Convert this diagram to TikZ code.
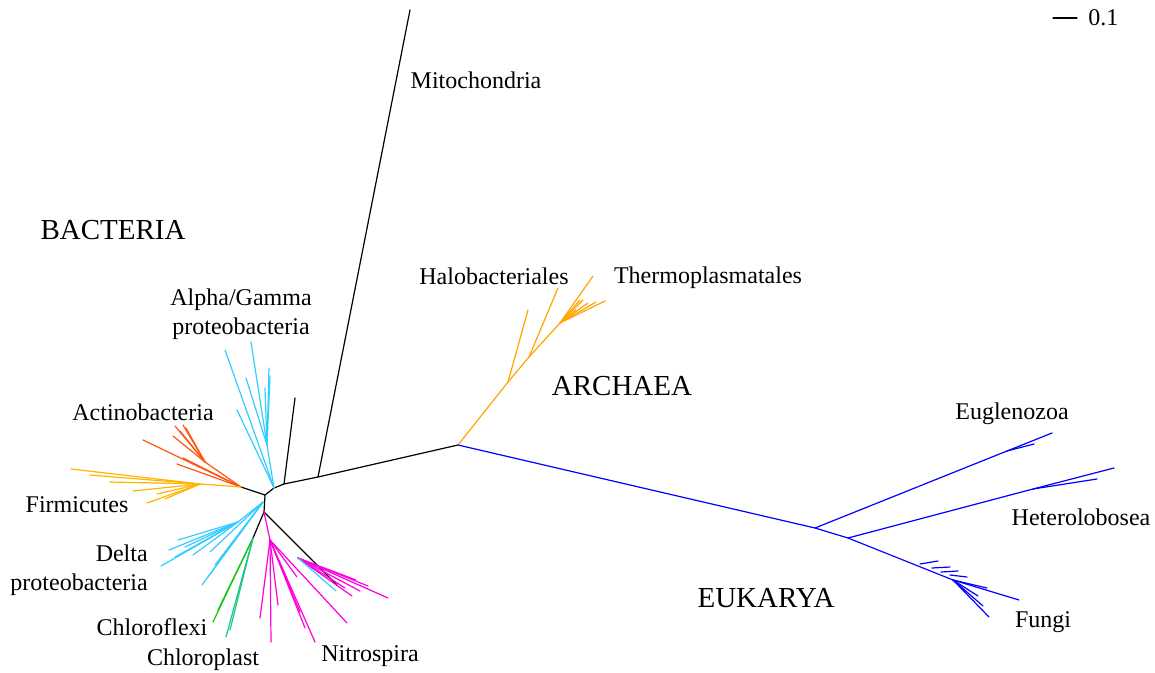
\documentclass[tikz,border=0pt]{standalone}
\usepackage{fontspec}
\setmainfont{Liberation Serif}
\definecolor{proteo}{RGB}{51,204,255}
\definecolor{actino}{RGB}{255,85,17}
\definecolor{firmi}{RGB}{255,180,0}
\definecolor{archae}{RGB}{255,165,0}
\definecolor{nitro}{RGB}{255,0,220}
\definecolor{flexi}{RGB}{20,200,20}
\definecolor{plast}{RGB}{20,200,130}
\definecolor{euk}{RGB}{0,0,255}

\begin{document}
\begin{tikzpicture}[x=0.5pt,y=-0.5pt,line width=0.6pt,line cap=round,
  lab/.style={font=\fontsize{12}{14.5}\selectfont},
  dom/.style={font=\fontsize{14.5}{17}\selectfont}]
  \useasboundingbox (0,0) rectangle (1155,673);
  % inner points (px, y down)
  \coordinate (hub) at (265,495);
  \coordinate (lft) at (241,487);
  \coordinate (agb) at (274,488);
  \coordinate (bs) at (284,484);
  \coordinate (mt) at (318,477);
  \coordinate (arc) at (458,445);
  \coordinate (dn) at (264,512);
  \coordinate (chl) at (253,538);
  \coordinate (ntb) at (337,585);
  \coordinate (ek1) at (815,528);
  \coordinate (ek2) at (848,538);
  % backbone
  \draw (lft)--(hub)--(agb)--(bs)--(mt)--(arc);
  \draw (bs)--(295,398);
  \draw (mt)--(410,10);
  \draw (hub)--(dn)--(chl);
  \draw (dn)--(ntb);
  % alpha/gamma proteobacteria
  \coordinate (ag1) at (267,445);
  \draw[proteo](agb)--(ag1);
  \foreach \tx/\ty in {251/342,246/378,269/368,270/376,265/388}{
    \draw[proteo](ag1)--(\tx,\ty);}
  \foreach \tx/\ty in {225/350,237/410}{
    \draw[proteo](agb)--(\tx,\ty);}
  % actinobacteria
  \coordinate (ac1) at (205,462);
  \draw[actino](lft)--(143,440);
  \draw[actino](lft)--(ac1);
  \foreach \tx/\ty in {175/426,183/425,173/436,180/431,186/428}{
    \draw[actino](ac1)--(\tx,\ty);}
  \foreach \tx/\ty in {177/464,183/458}{
    \draw[actino](lft)--(\tx,\ty);}
  % firmicutes
  \coordinate (fi1) at (200,484);
  \draw[firmi](lft)--(fi1);
  \foreach \tx/\ty in {71/469,90/475,110/482,133/491,147/503,157/494,165/499}{
    \draw[firmi](fi1)--(\tx,\ty);}
  % delta proteobacteria
  \coordinate (dl0) at (263,502);
  \coordinate (dl1) at (238,522);
  \draw[proteo](dl0)--(dl1);
  \foreach \tx/\ty in {161/566,169/550,178/540,185/547,175/557,193/555}{
    \draw[proteo](dl1)--(\tx,\ty);}
  \foreach \tx/\ty in {202/585,208/577,210/552,215/565}{
    \draw[proteo](dl0)--(\tx,\ty);}
  % chloroflexi, chloroplast
  \draw[flexi](chl)--(213,622);
  \draw[flexi](chl)--(218,610);
  \draw[plast](chl)--(226,637);
  \draw[plast](chl)--(230,630);
  % nitrospira
  \coordinate (ni1) at (270,540);
  \coordinate (ni2) at (298,558);
  \draw[nitro](dn)--(ni1);
  \foreach \tx/\ty in {260/618,271/642,315/642,347/623,297/577,278/605,305/628,300/612}{
    \draw[nitro](ni1)--(\tx,\ty);}
  \foreach \tx/\ty in {388/598,360/591,352/596,345/588,368/586,356/580}{
    \draw[nitro](ni2)--(\tx,\ty);}
  \draw[proteo](ni2)--(336,591);
  % archaea
  \coordinate (ar1) at (508,382);
  \coordinate (ar2) at (529,357);
  \coordinate (ar3) at (560,323);
  \draw[archae](arc)--(ar1)--(ar2)--(ar3)--(593,276);
  \draw[archae](ar1)--(528,310);
  \draw[archae](ar2)--(558,288);
  \foreach \tx/\ty in {605/301,588/303,583/300,580/300,596/302,576/310}{
    \draw[archae](ar3)--(\tx,\ty);}
  % eukarya
  \coordinate (eg1) at (1007,451);
  \coordinate (he1) at (1033,489);
  \coordinate (fu2) at (953,580);
  \draw[euk](arc)--(ek1)--(ek2)--(fu2)--(1019,600);
  \draw[euk](ek1)--(eg1)--(1052,433);
  \draw[euk](eg1)--(1034,444);
  \draw[euk](ek2)--(he1)--(1114,468);
  \draw[euk](he1)--(1097,479);
  \foreach \sx/\sy/\tx/\ty in {920/564/938/561,932/568/950/567,941/572/958/571,950/575/967/577}{
    \draw[euk](\sx,\sy)--(\tx,\ty);}
  \foreach \tx/\ty in {989/617,987/588,978/596,983/606}{
    \draw[euk](fu2)--(\tx,\ty);}
  % scale bar
  \coordinate (sc1) at (1053,18);
  \coordinate (sc2) at (1077,18);
  \draw (sc1)--(sc2);
  \node[lab,right=2pt] (scl) at (sc2) {0.1};
  % labels
  \node[lab] (mito) at (476,80) {Mitochondria};
  \node[dom] (bact) at (113,230) {BACTERIA};
  \node[lab] (halo) at (494,276) {Halobacteriales};
  \node[lab] (thermo) at (708,278) {Thermoplasmatales};
  \node[lab,align=center] (alpha) at (241,314) {Alpha/Gamma\\proteobacteria};
  \node[dom] (arch) at (622,386) {ARCHAEA};
  \node[lab] (actin) at (143,412) {Actinobacteria};
  \node[lab] (eugl) at (1012,414) {Euglenozoa};
  \node[lab] (firm) at (77,505) {Firmicutes};
  \node[lab] (hetero) at (1081,517) {Heterolobosea};
  \node[lab,align=right,anchor=east] (delta) at (155,570) {Delta\\proteobacteria};
  \node[dom] (eukar) at (766,598) {EUKARYA};
  \node[lab] (flexl) at (152,627) {Chloroflexi};
  \node[lab] (fungi) at (1043,622) {Fungi};
  \node[lab] (plastl) at (203,660) {Chloroplast};
  \node[lab] (nitrl) at (370,656) {Nitrospira};
\end{tikzpicture}
\end{document}
